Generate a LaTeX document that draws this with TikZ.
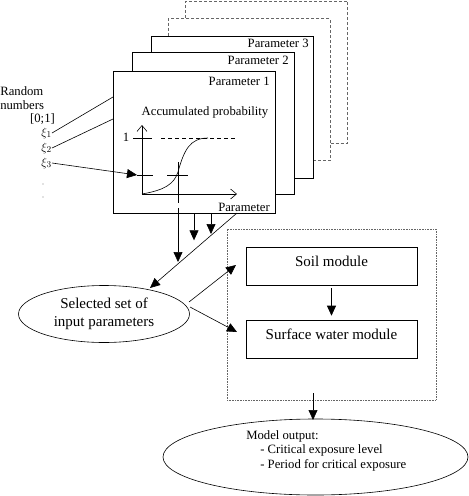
\documentclass[tikz,border=0pt]{standalone}
\usepackage{fontspec}
\setmainfont{Liberation Serif}
\usetikzlibrary{positioning, shapes.geometric, arrows.meta}
\tikzstyle{arrow} = [-{Triangle[length=10pt,width=9pt]}]
\tikzstyle{axis} = [-{Straight Barb[length=6pt,width=10pt]}]

\begin{document}
\begin{tikzpicture}[
		x=1pt, y=-1pt, line width=0.6pt,
		card/.style={draw, fill=white, minimum width=162pt, minimum height=142pt, inner sep=0pt},
		ghost/.style={card, draw=black!60, dash pattern=on 3pt off 2pt},
		module/.style={draw, minimum width=171pt, minimum height=38pt, text depth=10pt, font=\fontsize{15}{18}\selectfont},
		oval/.style={draw, ellipse, inner sep=0pt},
		lbl/.style={font=\fontsize{12.7}{14.5}\selectfont, inner sep=0pt}
		]
		\useasboundingbox (0,0) rectangle (469,496);
		
		% stack of parameter cards
		\node (card5) at (266.5,72) [ghost] {};
		\node (card4) at (249,89.5) [ghost] {};
		\node (card3) at (232.5,107) [card] {};
		\node (card2) at (213,123) [card] {};
		\node (card1) at (194,142) [card] {};
		
		\node (par3) at (309,43) [lbl, anchor=east] {Parameter 3};
		\node (par2) at (289,60) [lbl, anchor=east] {Parameter 2};
		\node (par1) at (270,81) [lbl, anchor=east] {Parameter 1};
		\node (accum) at (205,112) [lbl] {Accumulated probability};
		\node (parx) at (244,207) [lbl] {Parameter};
		
		% distribution curve
		\coordinate (origin) at (142,194);
		\draw[axis] (origin) -- (142,125);
		\draw[axis] (origin) -- (237,194);
		\node (one) at (126,137) [lbl] {1};
		\draw (133,138) -- (152,138);
		\draw[dash pattern=on 4pt off 3pt] (161,138) -- (237,138);
		\draw (origin) .. controls (165,190) and (174,184) .. (178,172) .. controls (184,150) and (190,138) .. (208,138);
		\coordinate (hit) at (137,175);
		\draw (hit) -- (153,175);
		\draw (167,175) -- (188,175);
		\draw (178,162) -- (178,203);
		
		% random numbers
		\node (rand) at (0,98) [lbl, anchor=west, align=left] {Random\\numbers};
		\node (range) at (42.5,119) [lbl] {[0;1]};
		\node (xi1) at (52,133) [lbl, anchor=east] {$\xi_1$};
		\node (xi2) at (52,148) [lbl, anchor=east] {$\xi_2$};
		\node (xi3) at (52,163) [lbl, anchor=east] {$\xi_3$};
		\fill[black!50] (43,184) circle (0.7);
		\fill[black!50] (43,197) circle (0.7);
		
		\coordinate (in1) at (113,97);
		\coordinate (in2) at (113,119);
		\draw (xi1.east) -- (in1);
		\draw (xi2.east) -- (in2);
		\draw[arrow] (xi3.east) -- (hit);
		
		% selected set
		\node (sel) at (104,314) [oval, minimum width=171pt, minimum height=57pt, align=center, font=\fontsize{15}{18}\selectfont] {Selected set of\\input parameters};
		
		\coordinate (drop1) at (178,208);
		\coordinate (tip1) at (178,262);
		\draw[arrow] (drop1) -- (tip1);
		\draw[arrow] (card1.south) -- ++(0,27);
		\draw[arrow] (211,213) -- (211,234);
		\coordinate (diag) at (237,213);
		\coordinate (selin) at (150,288);
		\draw[arrow] (diag) -- (selin);
		
		% model
		\node (model) at (331.5,314.5) [draw=black!60, densely dotted, minimum width=209pt, minimum height=171pt] {};
		\node (soil) at (331.5,266) [module] {Soil module};
		\node (surf) at (331.5,339) [module] {Surface water module};
		\draw[arrow, shorten <=3pt, shorten >=4pt] (soil) -- (surf);
		
		\coordinate (selout1) at (189,302);
		\coordinate (selout2) at (190,307);
		\coordinate (soilin) at (236,265);
		\coordinate (surfin) at (237,332);
		\draw[arrow] (selout1) -- (soilin);
		\draw[arrow] (selout2) -- (surfin);
		
		% output
		\node (output) at (315.5,457) [oval, minimum width=305pt, minimum height=76pt] {};
		\node (outtxt) at (246,430) [lbl, align=left, anchor=north west] {Model output:\\\hspace*{14pt}- Critical exposure level\\\hspace*{14pt}- Period for critical exposure};
		\coordinate (modout) at (313,393);
		\coordinate (outin) at (313,420);
		\draw[arrow] (modout) -- (outin);
	\end{tikzpicture}
\end{document}
